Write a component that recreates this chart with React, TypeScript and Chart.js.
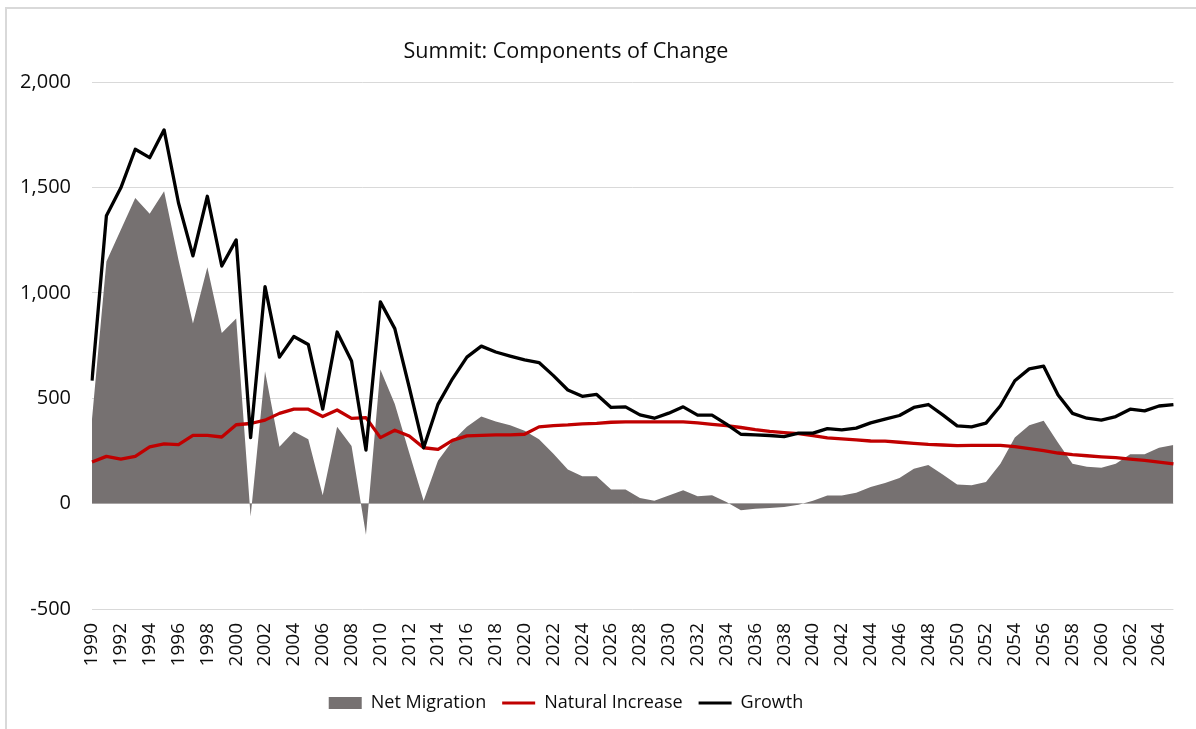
import React, { useEffect, useRef } from "react";
import { Chart, registerables } from "chart.js";

Chart.register(...registerables);

const years: string[] = [];
for (let y = 1990; y <= 2065; y++) years.push(String(y));

const netMigration = [
  401, 1148, 1299, 1450, 1375, 1482, 1156, 854, 1121, 809,
  878, -61, 628, 270, 342, 305, 40, 364, 273, -148,
  636, 472, 241, 14, 205, 297, 364, 413, 389, 372,
  345, 305, 237, 162, 130, 130, 67, 67, 27, 14,
  38, 63, 35, 40, 8, -32, -24, -21, -16, -5,
  14, 38, 38, 51, 79, 98, 122, 165, 183, 138,
  91, 87, 102, 189, 313, 372, 393, 289, 189, 175,
  170, 189, 234, 234, 265, 278,
];

const naturalIncrease = [
  197, 224, 211, 224, 269, 283, 280, 324, 324, 316,
  374, 380, 396, 428, 448, 448, 413, 444, 404, 408,
  313, 348, 321, 265, 257, 300, 321, 324, 326, 326,
  329, 364, 370, 373, 378, 381, 386, 388, 388, 388,
  388, 388, 383, 376, 370, 361, 351, 343, 337, 332,
  323, 312, 307, 302, 297, 296, 291, 286, 281, 278,
  275, 276, 276, 276, 270, 261, 251, 240, 232, 227,
  222, 218, 211, 205, 197, 188,
];

const growth = [
  583, 1366, 1498, 1681, 1641, 1773, 1426, 1175, 1458, 1127,
  1251, 313, 1029, 695, 793, 755, 448, 814, 676, 254,
  957, 830, 552, 265, 472, 592, 695, 747, 719, 700,
  682, 669, 607, 539, 509, 518, 456, 459, 421, 405,
  429, 459, 420, 420, 377, 329, 326, 323, 318, 334,
  334, 356, 350, 358, 383, 401, 418, 456, 470, 421,
  369, 364, 382, 464, 583, 639, 652, 515, 428, 405,
  396, 413, 448, 440, 463, 470,
];

const yTicks = [-500, 0, 500, 1000, 1500, 2000];

const FONT = "'Open Sans', 'Noto Sans', sans-serif";
const TEXT = "#0d0d0d";

const centerBoxes = {
  id: "centerBoxes",
  afterLayout(chart: any) {
    const cx = 566;
    const boxes = [chart.titleBlock, chart.legend];
    for (const b of boxes) {
      if (!b) continue;
      const w = b.right - b.left;
      b.left = cx - w / 2;
      b.right = cx + w / 2;
    }
  },
};

export default function App() {
  const ref = useRef<HTMLCanvasElement | null>(null);

  useEffect(() => {
    if (!ref.current) return;
    const chart = new Chart(ref.current, {
      type: "line",
      data: {
        labels: years,
        datasets: [
          {
            label: "Net Migration",
            data: netMigration,
            backgroundColor: "#767171",
            borderColor: "#767171",
            borderWidth: 0,
            fill: "origin",
            pointRadius: 0,
            tension: 0,
            order: 3,
            pointStyle: "rect",
          } as any,
          {
            label: "Natural Increase",
            data: naturalIncrease,
            borderColor: "#C00000",
            backgroundColor: "#C00000",
            borderWidth: 3.3,
            fill: false,
            pointRadius: 0,
            tension: 0,
            order: 2,
            borderJoinStyle: "round",
            pointStyle: "line",
          } as any,
          {
            label: "Growth",
            data: growth,
            borderColor: "#000000",
            backgroundColor: "#000000",
            borderWidth: 3.3,
            fill: false,
            pointRadius: 0,
            tension: 0,
            order: 1,
            borderJoinStyle: "round",
            pointStyle: "line",
          } as any,
        ],
      },
      options: {
        animation: false,
        responsive: false,
        maintainAspectRatio: false,
        layout: { padding: { left: 0, right: 14, top: 0, bottom: 7 } },
        plugins: {
          title: {
            display: true,
            text: "Summit: Components of Change",
            color: TEXT,
            font: { family: FONT, size: 21.5, weight: "normal" },
            padding: { top: 39, bottom: 17.2 },
          },
          legend: {
            position: "bottom",
            labels: {
              usePointStyle: true,
              pointStyleWidth: 33,
              boxHeight: 12,
              boxWidth: 33,
              padding: 16,
              color: TEXT,
              font: { family: FONT, size: 18 },
              sort: (a: any, b: any) => a.datasetIndex - b.datasetIndex,
              generateLabels: (chart: any) =>
                chart.data.datasets.map((ds: any, i: number) => ({
                  text: ds.label,
                  fillStyle: ds.backgroundColor,
                  strokeStyle: ds.borderColor,
                  lineWidth: i === 0 ? 0 : 3,
                  pointStyle: ds.pointStyle,
                  datasetIndex: i,
                  hidden: false,
                  fontColor: TEXT,
                })),
            },
          },
          tooltip: { enabled: false },
        },
        scales: {
          x: {
            grid: { display: false, drawTicks: false },
            border: { display: false },
            afterFit: (s: any) => {
              s.height = 69;
            },
            ticks: {
              autoSkip: false,
              maxRotation: 90,
              minRotation: 90,
              padding: 14,
              color: TEXT,
              font: { family: FONT, size: 19 },
              callback: function (this: any, v: any, i: number) {
                return i % 2 === 0 ? years[i] : null;
              },
            },
          },
          y: {
            min: -500,
            max: 2000,
            afterFit: (s: any) => {
              s.width = 92;
            },
            afterBuildTicks: (s: any) => {
              s.ticks = yTicks.map((v) => ({ value: v }));
            },
            grid: { color: "#d9d9d9", lineWidth: 1, drawTicks: false },
            border: { display: false },
            ticks: {
              padding: 21,
              color: TEXT,
              font: { family: FONT, size: 20 },
              callback: (v: any) => Number(v).toLocaleString("en-US"),
            },
          },
        },
      },
      plugins: [centerBoxes],
    });
    return () => chart.destroy();
  }, []);

  return (
    <div
      style={{
        position: "fixed",
        left: 0,
        top: 0,
        width: 1196,
        height: 729,
        background: "#fff",
        overflow: "hidden",
      }}
    >
      <div
        style={{
          position: "absolute",
          left: 5,
          top: 7,
          width: 1300,
          height: 800,
          borderLeft: "2px solid #d9d9d9",
          borderTop: "2px solid #d9d9d9",
          boxSizing: "border-box",
        }}
      />
      <canvas
        ref={ref}
        width={1196}
        height={729}
        style={{ position: "absolute", left: 0, top: 0, width: 1196, height: 729 }}
      />
    </div>
  );
}
